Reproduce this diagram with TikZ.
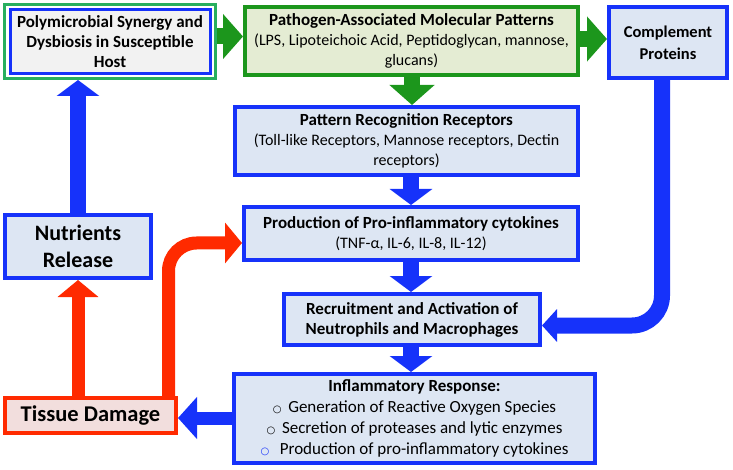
\documentclass[tikz,border=0pt]{standalone}
\usepackage{fontspec}
\setmainfont{Carlito}
\newfontfamily\symfont{DejaVu Sans}
\usepackage{tikz}
\usetikzlibrary{arrows.meta}
\definecolor{niceblue}{RGB}{22, 50, 250}
\definecolor{niceblueL}{RGB}{221, 230, 243}
\definecolor{nicegreen}{RGB}{28, 150, 28}
\definecolor{nicegreenL}{RGB}{228, 236, 211}
\definecolor{mintgreen}{RGB}{40, 175, 95}
\definecolor{lgray}{RGB}{242, 242, 242}
\definecolor{nicered}{RGB}{255, 42, 0}
\definecolor{niceredL}{RGB}{242, 222, 221}

\newcommand{\bul}[1][black]{{\color{#1}\symfont\fontsize{10}{10}\selectfont ○}\ \,}
\newcommand{\hd}[1]{{\fontsize{17}{20}\selectfont\bfseries #1}}

\begin{document}
\begin{tikzpicture}[x = 1pt, y = -1pt,
			font = \fontsize{16}{20}\selectfont,
			bbox/.style = {draw = niceblue, line width = 4pt, fill = niceblueL, align = center, inner sep = 0pt},
			gbox/.style = {draw = nicegreen, line width = 4pt, fill = nicegreenL, align = center, inner sep = 0pt},
			rbox/.style = {draw = nicered, line width = 4pt, fill = niceredL, align = center, inner sep = 0pt},
			garrow/.style = {nicegreen, line width = 16pt, -{Triangle[width = 44pt, length = 20pt]}},
			barrow/.style = {niceblue, line width = 16pt, -{Triangle[width = 42pt, length = 16pt]}},
			rarrow/.style = {nicered, line width = 13pt, -{Triangle[width = 40pt, length = 17pt]}}]
			\useasboundingbox (0,0) rectangle (733,470);
			\node (frame) at (110,41.5) [draw = mintgreen, line width = 3pt, fill = white, minimum width = 211pt, minimum height = 74pt] {};
			\node (poly) at (110,41.5) [draw = niceblue, line width = 3pt, fill = lgray, align = center, inner sep = 0pt, minimum width = 200pt, minimum height = 64pt] {\hd{Polymicrobial Synergy and}\\\hd{Dysbiosis in Susceptible}\\\hd{Host}};
			\node (pamp) at (411.5,41) [gbox, minimum width = 333pt, minimum height = 68pt] {\hd{Pathogen-Associated Molecular Patterns}\\(LPS, Lipoteichoic Acid, Peptidoglycan, mannose,\\glucans)};
			\node (comp) at (668,42.5) [bbox, minimum width = 118pt, minimum height = 71pt, font = \fontsize{16.5}{22}\selectfont] {\textbf{Complement}\\\textbf{Proteins}};
			\node (prr) at (406.5,141) [bbox, minimum width = 343pt, minimum height = 68pt] {\hd{Pattern Recognition Receptors}\\(Toll-like Receptors, Mannose receptors, Dectin\\receptors)};
			\node (prod) at (411,233.5) [bbox, minimum width = 334pt, minimum height = 53pt] {\hd{Production of Pro-inflammatory cytokines}\\(TNF-α, IL-6, IL-8, IL-12)};
			\node (recr) at (412,319.5) [bbox, minimum width = 256pt, minimum height = 51pt] {\hd{Recruitment and Activation of}\\\hd{Neutrophils and Macrophages}};
			\node (infl) at (414.5,418.5) [bbox, minimum width = 361pt, minimum height = 89pt, font = \fontsize{17}{21}\selectfont] {\textbf{Inflammatory Response:}\\\bul Generation of Reactive Oxygen Species\\\bul Secretion of proteases and lytic enzymes\\\bul[niceblue] Production of pro-inflammatory cytokines};
			\node (nutr) at (78,246.5) [bbox, minimum width = 146pt, minimum height = 63pt, font = \fontsize{22}{27}\selectfont] {\textbf{Nutrients}\\\textbf{Release}};
			\node (tissue) at (90.5,415.5) [rbox, minimum width = 171pt, minimum height = 35pt, font = \fontsize{22.5}{25}\selectfont] {\textbf{Tissue Damage}};
			% green arrows
			\draw[garrow] ([yshift = 5pt]frame.east) -- ([yshift = 5pt]frame.east -| pamp.west);
			\draw[garrow] ([yshift = 2pt]pamp.east) -- ([yshift = 2pt]pamp.east -| comp.west);
			\draw[garrow] (pamp.south -| 412,0) -- (prr.north -| 412,0);
			% blue arrows
			\draw[barrow] (prr.south -| prod.north) -- (prod.north);
			\draw[barrow] (prod.south -| 411,0) -- (recr.north -| 411,0);
			\draw[barrow] (recr.south -| 411,0) -- (infl.north -| 411,0);
			\draw[barrow] (nutr.north) -- (nutr.north |- frame.south);
			\draw[niceblue, line width = 16pt, rounded corners = 30pt, -{Triangle[width = 32pt, length = 15pt]}] (comp.south -| 662,0) |- ([yshift = -6pt]recr.east);
			\draw[niceblue, line width = 13pt, -{Triangle[width = 41pt, length = 19pt]}] ([yshift = -2.5pt]infl.west |- tissue.east) -- ([yshift = -2.5pt]tissue.east);
			% red arrows
			\draw[rarrow] (tissue.north -| nutr.south) -- (nutr.south);
			\draw[rarrow, rounded corners = 28pt] ([xshift = -9.5pt]tissue.north east) |- ([yshift = -9.5pt]prod.west);
			\end{tikzpicture}
\end{document}
